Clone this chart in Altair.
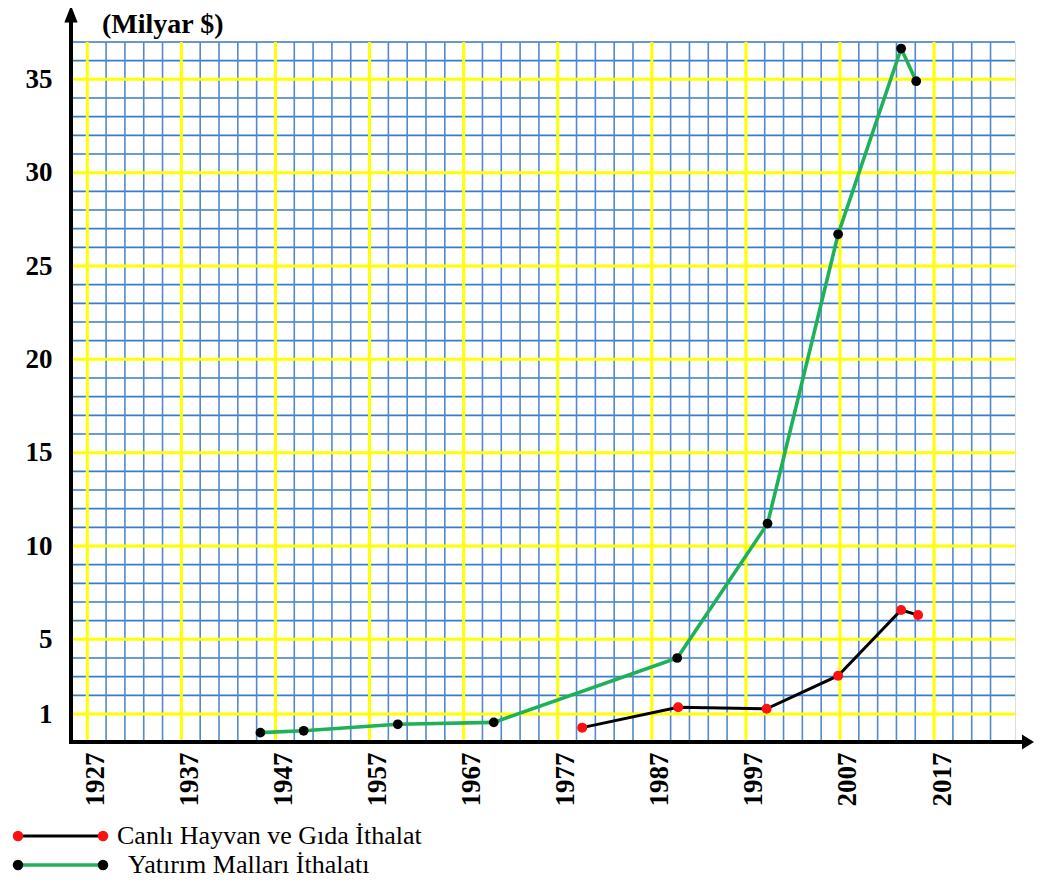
import altair as alt
import pandas as pd

# ---- data ----
green_years = [1945.4, 1950.0, 1960.0, 1970.2, 1989.7, 1999.3, 2006.8, 2013.5, 2015.1]
green_values = [0.0, 0.1, 0.45, 0.55, 4.0, 11.2, 26.7, 36.65, 34.9]

red_years = [1979.6, 1989.8, 1999.2, 2006.8, 2013.5, 2015.3]
red_values = [0.27, 1.36, 1.28, 3.05, 6.57, 6.3]

x_label_years = [1927, 1937, 1947, 1957, 1967, 1977, 1987, 1997, 2007, 2017]
y_label_values = [1, 5, 10, 15, 20, 25, 30, 35]

grid_years = list(range(1927, 2024, 2))          # thin vertical lines every 2 years
grid_values = list(range(1, 38))                  # thin horizontal lines every 1 unit

label_green = "Yatırım Malları İthalatı"
label_red = "Canlı Hayvan ve Gıda İthalat"
unit_title = "(Milyar $)"

# ---- styles ----
FONT = "Liberation Serif"
BLUE_H = "#3a7cc6"
BLUE_V = "#5189cc"
YELLOW = "#ffff00"
GREEN = "#1fb157"
RED = "#ff1010"
W, H = 944, 700

x_scale = alt.Scale(domain=[1925.27, 2025.6], nice=False, zero=False)
y_scale = alt.Scale(domain=[-0.5, 37], nice=False, zero=False)

x_axis = alt.Axis(values=x_label_years, labelAngle=270, labelFont=FONT, labelFontWeight="bold",
                  labelFontSize=27, labelColor="black", ticks=False, domain=False, grid=False,
                  labelPadding=10, labelOffset=8, title=None, labelFlush=False,
                  labelOverlap=False, format="d")
y_axis = alt.Axis(values=y_label_values, labelFont=FONT, labelFontWeight="bold", labelFontSize=27,
                  labelColor="black", ticks=False, domain=False, grid=False, labelPadding=19,
                  title=None, labelOverlap=False, labelFlush=False, format="d")


def X(field):
    return alt.X(field, type="quantitative", scale=x_scale, axis=x_axis)


def Y(field):
    return alt.Y(field, type="quantitative", scale=y_scale, axis=y_axis)


grid_h = pd.DataFrame({"v": grid_values})
grid_h["major"] = grid_h["v"].apply(lambda v: v == 1 or v % 5 == 0)
grid_v = pd.DataFrame({"year": grid_years})
grid_v["major"] = grid_v["year"].apply(lambda y: (y - 1927) % 10 == 0)

green_df = pd.DataFrame({"year": green_years, "value": green_values})
red_df = pd.DataFrame({"year": red_years, "value": red_values})
one = pd.DataFrame({"k": [0]})

blue_h = alt.Chart(grid_h).transform_filter("!datum.major").mark_rule(
    color=BLUE_H, strokeWidth=1.6).encode(y=Y("v"))
blue_v = alt.Chart(grid_v).transform_filter("!datum.major").mark_rule(
    color=BLUE_V, strokeWidth=1.6).encode(x=X("year"))
yellow_v = alt.Chart(grid_v).transform_filter("datum.major").mark_rule(
    color=YELLOW, strokeWidth=3).encode(x=X("year"))
yellow_h = alt.Chart(grid_h).transform_filter("datum.major").mark_rule(
    color=YELLOW, strokeWidth=3).encode(y=Y("v"))

# axes with arrows
y_axis_line = alt.Chart(one).mark_rule(color="black", strokeWidth=4).encode(
    x=alt.value(0), y=alt.value(-21), y2=alt.value(702))
x_axis_line = alt.Chart(one).mark_rule(color="black", strokeWidth=4).encode(
    x=alt.value(-2), x2=alt.value(953), y=alt.value(700))
up_arrow = alt.Chart(one).mark_point(shape="M0,-1L0.78,1L-0.78,1Z", filled=True, color="black",
                                     opacity=1, size=289, strokeWidth=0).encode(
    x=alt.value(0), y=alt.value(-28))
right_arrow = alt.Chart(one).mark_point(shape="M0.8,0L-0.8,1L-0.8,-1Z", filled=True, color="black",
                                        opacity=1, size=225, strokeWidth=0).encode(
    x=alt.value(957), y=alt.value(700))

# data series
green_line = alt.Chart(green_df).mark_line(color=GREEN, strokeWidth=3.6).encode(
    x=X("year"), y=Y("value"))
green_pts = alt.Chart(green_df).mark_point(filled=True, color="black", opacity=1, size=95,
                                           strokeWidth=0).encode(x=X("year"), y=Y("value"))
red_line = alt.Chart(red_df).mark_line(color="black", strokeWidth=3).encode(
    x=X("year"), y=Y("value"))
red_pts = alt.Chart(red_df).mark_point(filled=True, color=RED, opacity=1, size=100,
                                       strokeWidth=0).encode(x=X("year"), y=Y("value"))

title_txt = alt.Chart(one).mark_text(text=unit_title, font=FONT, fontWeight="bold", fontSize=28,
                                     align="left", baseline="alphabetic", color="black").encode(
    x=alt.value(31), y=alt.value(-9))

# manual legend
leg = []
leg.append(alt.Chart(one).mark_rule(color="black", strokeWidth=3).encode(
    x=alt.value(-53), x2=alt.value(32), y=alt.value(794)))
for px in (-53, 32):
    leg.append(alt.Chart(one).mark_point(filled=True, color=RED, opacity=1, size=110,
                                         strokeWidth=0).encode(x=alt.value(px), y=alt.value(794)))
leg.append(alt.Chart(one).mark_text(text=label_red, font=FONT, fontSize=26, align="left",
                                    baseline="alphabetic", color="black").encode(
    x=alt.value(46), y=alt.value(802)))
leg.append(alt.Chart(one).mark_rule(color=GREEN, strokeWidth=3.5).encode(
    x=alt.value(-53), x2=alt.value(32), y=alt.value(823)))
for px in (-53, 32):
    leg.append(alt.Chart(one).mark_point(filled=True, color="black", opacity=1, size=110,
                                         strokeWidth=0).encode(x=alt.value(px), y=alt.value(823)))
leg.append(alt.Chart(one).mark_text(text=label_green, font=FONT, fontSize=26, align="left",
                                    baseline="alphabetic", color="black").encode(
    x=alt.value(57), y=alt.value(831)))

chart = alt.layer(
    blue_h, blue_v, yellow_v, yellow_h,
    red_line, green_line, red_pts, green_pts,
    y_axis_line, x_axis_line, up_arrow, right_arrow,
    title_txt, *leg
).properties(
    width=W, height=H,
    autosize=alt.AutoSizeParams(type="none"),
    padding={"left": 63, "top": 34, "right": 20, "bottom": 139},
).configure_view(stroke=None).configure(background="white")

chart.save("out.html", embed_options={"renderer": "svg", "actions": False})
